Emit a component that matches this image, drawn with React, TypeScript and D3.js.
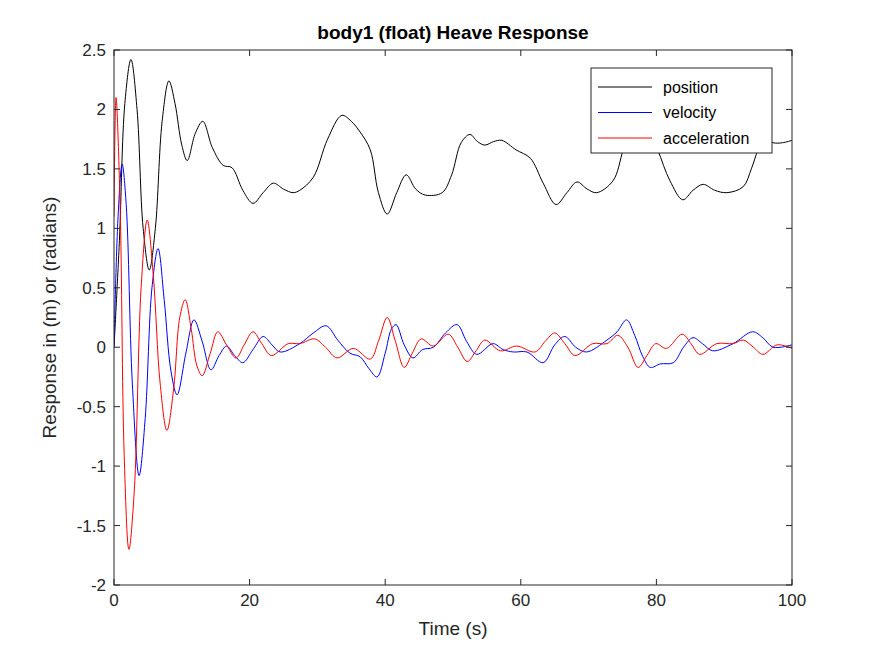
import * as d3 from "d3";

const W = 875;
const H = 656;
const MARGIN = { top: 50, right: 83, bottom: 71, left: 114 };

// [time (s), value]
const position: [number, number][] = [
  [0, 0], [0.8, 0.9], [1.6, 2.05], [2.5, 2.42], [3.4, 2.0], [4.3, 1.0], [5.2, 0.65], [6.1, 1.0],
  [7.1, 1.9], [8.1, 2.24], [9.0, 2.05], [10.0, 1.7], [10.8, 1.57], [12.0, 1.8], [13.1, 1.9],
  [14.5, 1.68], [16.1, 1.53], [17.4, 1.51], [19.0, 1.32], [20.5, 1.21], [22.0, 1.3], [23.5, 1.38],
  [25.0, 1.33], [26.4, 1.3], [27.4, 1.32], [29.4, 1.43], [31.5, 1.75], [33.6, 1.95], [35.0, 1.9],
  [36.3, 1.81], [37.8, 1.66], [39.0, 1.3], [40.3, 1.12], [41.7, 1.3], [43.1, 1.45], [44.5, 1.33],
  [45.9, 1.28], [48.4, 1.3], [49.8, 1.45], [51.2, 1.72], [52.5, 1.79], [53.6, 1.73], [54.7, 1.7],
  [56.0, 1.73], [57.2, 1.74], [59.3, 1.66], [61.4, 1.59], [63.3, 1.38], [65.2, 1.2], [66.8, 1.3],
  [68.3, 1.39], [69.8, 1.33], [71.2, 1.3], [73.6, 1.4], [75.1, 1.66], [76.5, 1.9], [77.6, 1.95],
  [78.8, 1.85], [80.2, 1.66], [82.0, 1.4], [83.9, 1.24], [85.4, 1.32], [86.9, 1.37], [88.6, 1.32],
  [90.4, 1.3], [92.8, 1.35], [94.0, 1.5], [95.0, 1.66], [96.0, 1.76], [97.2, 1.72], [98.6, 1.72],
  [100, 1.74],
];

const velocity: [number, number][] = [
  [0, 0], [0.6, 1.1], [1.2, 1.54], [1.8, 1.2], [2.7, -0.3], [3.7, -1.08], [4.6, -0.6], [5.6, 0.5],
  [6.5, 0.83], [7.4, 0.4], [8.4, -0.2], [9.3, -0.4], [10.6, -0.05], [11.8, 0.23], [13.0, 0.05],
  [14.3, -0.19], [15.5, -0.07], [16.6, 0.01], [17.8, -0.07], [19.0, -0.13], [20.5, -0.02],
  [22.0, 0.09], [23.3, 0.02], [24.5, -0.04], [27.4, 0.03], [29.4, 0.12], [31.3, 0.18], [33.0, 0.06],
  [34.8, -0.05], [36.3, -0.08], [37.6, -0.18], [38.8, -0.25], [40.0, -0.05], [40.9, 0.15],
  [41.6, 0.19], [42.8, 0.02], [44.1, -0.09], [45.5, -0.02], [47.1, 0.0], [48.9, 0.12], [50.6, 0.19],
  [52.0, 0.05], [53.5, -0.06], [55.9, 0.03], [57.4, -0.02], [58.9, -0.04], [60.9, -0.04],
  [63.3, -0.13], [65.0, 0.02], [66.5, 0.09], [68.1, 0.0], [69.7, -0.04], [72.7, 0.06], [74.2, 0.13],
  [75.6, 0.23], [76.8, 0.1], [78.0, -0.08], [79.1, -0.17], [80.6, -0.14], [82.5, -0.13],
  [84.0, 0.0], [85.4, 0.08], [86.8, 0.03], [88.3, -0.03], [91.3, 0.03], [94.2, 0.13], [95.7, 0.08],
  [97.2, 0.0], [100, 0.02],
];

const acceleration: [number, number][] = [
  [0, 1.1], [0.3, 2.1], [0.9, 1.2], [1.5, -0.9], [2.2, -1.7], [3.0, -1.2], [4.0, 0.5], [4.9, 1.07],
  [5.8, 0.6], [6.8, -0.3], [7.8, -0.7], [8.8, -0.35], [9.7, 0.25], [10.5, 0.4], [11.4, 0.15],
  [12.2, -0.15], [13.0, -0.24], [14.2, -0.05], [15.3, 0.13], [16.6, 0.02], [18.0, -0.09],
  [19.2, 0.02], [20.5, 0.13], [21.8, 0.03], [23.2, -0.07], [25.7, 0.03], [27.4, 0.03], [29.6, 0.07],
  [31.2, 0.0], [32.9, -0.09], [35.3, -0.01], [37.8, -0.1], [39.0, 0.05], [40.3, 0.25], [41.5, 0.05],
  [42.8, -0.17], [44.0, -0.05], [45.3, 0.07], [47.1, 0.01], [49.3, 0.11], [50.7, 0.0], [52.1, -0.12],
  [53.4, -0.03], [54.7, 0.06], [57.0, -0.03], [59.4, 0.01], [62.1, -0.04], [63.6, 0.05], [65.0, 0.12],
  [66.5, 0.03], [68.0, -0.07], [70.6, 0.03], [72.7, 0.03], [74.3, 0.1], [75.8, 0.0], [77.3, -0.17],
  [78.6, -0.07], [79.9, 0.03], [81.5, -0.01], [83.8, 0.11], [85.1, 0.03], [86.4, -0.06],
  [88.9, 0.03], [91.3, 0.03], [92.8, 0.06], [94.3, 0.0], [95.7, -0.06], [97.8, 0.02], [100, -0.01],
];

const SERIES = [
  { name: "position", color: "#000000", data: position },
  { name: "velocity", color: "#0000ff", data: velocity },
  { name: "acceleration", color: "#ff0000", data: acceleration },
];

const X_TICKS = [0, 20, 40, 60, 80, 100];
const Y_TICKS = [-2, -1.5, -1, -0.5, 0, 0.5, 1, 1.5, 2, 2.5];

const FONT = "'Liberation Sans', Arial, sans-serif";
const TICK = 6;

export default function App() {
  const bw = W - MARGIN.left - MARGIN.right;
  const bh = H - MARGIN.top - MARGIN.bottom;

  const x = d3.scaleLinear().domain([0, 100]).range([0, bw]);
  const y = d3.scaleLinear().domain([-2, 2.5]).range([bh, 0]);

  const line = d3
    .line<[number, number]>()
    .x((d) => x(d[0]))
    .y((d) => y(d[1]))
    .curve(d3.curveCatmullRom.alpha(0.5));

  return (
    <svg
      width={W}
      height={H}
      style={{ position: "absolute", left: 0, top: 0, background: "#fff" }}
      fontFamily={FONT}
    >
      <text x={MARGIN.left + bw / 2} y={39} textAnchor="middle" fontSize={19} fontWeight="bold">
        body1 (float) Heave Response
      </text>
      <g transform={`translate(${MARGIN.left},${MARGIN.top})`}>
        <defs>
          <clipPath id="plot">
            <rect width={bw} height={bh} />
          </clipPath>
        </defs>
        <g clipPath="url(#plot)">
          {SERIES.map((s) => (
            <path key={s.name} d={line(s.data) ?? ""} fill="none" stroke={s.color} strokeWidth={1} />
          ))}
        </g>
        <rect width={bw} height={bh} fill="none" stroke="#262626" strokeWidth={1} />
        {X_TICKS.map((t) => (
          <g key={t} transform={`translate(${x(t)},0)`}>
            <line y1={bh} y2={bh - TICK} stroke="#262626" />
            <line y1={0} y2={TICK} stroke="#262626" />
            <text y={bh + 21} textAnchor="middle" fontSize={17} fill="#262626">
              {t}
            </text>
          </g>
        ))}
        {Y_TICKS.map((t) => (
          <g key={t} transform={`translate(0,${y(t)})`}>
            <line x1={0} x2={TICK} stroke="#262626" />
            <line x1={bw} x2={bw - TICK} stroke="#262626" />
            <text x={-8} dy="0.35em" textAnchor="end" fontSize={17} fill="#262626">
              {t}
            </text>
          </g>
        ))}
        <text x={bw / 2} y={bh + 50} textAnchor="middle" fontSize={19} fill="#262626">
          Time (s)
        </text>
        <text
          transform={`translate(-58,${bh / 2}) rotate(-90)`}
          textAnchor="middle"
          fontSize={19}
          fill="#262626"
        >
          Response in (m) or (radians)
        </text>
        {/* legend */}
        <g transform={`translate(${591 - MARGIN.left},${68 - MARGIN.top})`}>
          <rect width={181} height={85} fill="#fff" stroke="#262626" />
          {SERIES.map((s, i) => (
            <g key={s.name} transform={`translate(0,${19 + i * 25.5})`}>
              <line x1={7} x2={61} stroke={s.color} />
              <text x={72} dy="0.35em" fontSize={16} fill="#000">
                {s.name}
              </text>
            </g>
          ))}
        </g>
      </g>
    </svg>
  );
}
